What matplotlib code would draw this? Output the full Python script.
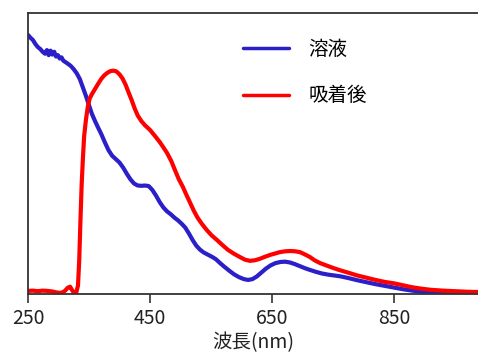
import matplotlib
matplotlib.use("Agg")
import matplotlib.pyplot as plt

plt.rcParams['font.family'] = ['Noto Sans CJK JP', 'DejaVu Sans']

# 溶液 (solution) spectrum, arbitrary absorbance units
wl_sol = [250, 254, 258, 262, 266, 270, 274, 278, 281, 284, 287, 290, 293, 296,
          299, 302, 305, 308, 311, 315, 320, 325, 330, 335, 340, 345, 350, 355,
          360, 365, 370, 376, 382, 388, 394, 400, 406, 412, 418, 424, 430, 436,
          442, 448, 454, 460, 466, 472, 478, 484, 490, 496, 502, 508, 514, 520,
          526, 532, 538, 545, 552, 558, 565, 572, 580, 588, 596, 604, 611, 618,
          625, 632, 640, 648, 656, 664, 672, 680, 688, 696, 704, 712, 722, 732,
          742, 752, 762, 775, 790, 805, 820, 835, 850, 865, 880, 895, 910, 930,
          960, 988]
abs_sol = [0.922, 0.912, 0.904, 0.890, 0.879, 0.872, 0.862, 0.855, 0.868, 0.850,
           0.866, 0.852, 0.862, 0.845, 0.850, 0.838, 0.842, 0.830, 0.826, 0.820,
           0.812, 0.800, 0.785, 0.765, 0.735, 0.705, 0.672, 0.640, 0.615, 0.592,
           0.570, 0.540, 0.512, 0.492, 0.480, 0.468, 0.450, 0.428, 0.408, 0.393,
           0.386, 0.385, 0.386, 0.384, 0.370, 0.350, 0.327, 0.308, 0.294, 0.284,
           0.272, 0.262, 0.250, 0.236, 0.215, 0.192, 0.172, 0.158, 0.148, 0.140,
           0.132, 0.124, 0.110, 0.097, 0.083, 0.070, 0.060, 0.053, 0.050, 0.053,
           0.062, 0.075, 0.090, 0.102, 0.110, 0.114, 0.115, 0.112, 0.106, 0.099,
           0.092, 0.086, 0.079, 0.073, 0.069, 0.066, 0.063, 0.057, 0.049, 0.042,
           0.035, 0.029, 0.023, 0.017, 0.012, 0.008, 0.005, 0.003, 0.002, 0.002]

# 吸着後 (after adsorption) spectrum
wl_ads = [250, 258, 266, 274, 282, 290, 296, 302, 307, 311, 315, 319, 322, 325,
          329, 332, 334, 336, 338, 340, 342, 345, 348, 351, 355, 360, 365, 370,
          375, 380, 385, 390, 395, 400, 405, 410, 415, 420, 425, 430, 436, 442,
          450, 458, 466, 472, 478, 485, 491, 497, 504, 510, 516, 522, 528, 535,
          543, 551, 560, 569, 578, 588, 598, 606, 614, 622, 630, 638, 647, 655,
          663, 672, 680, 688, 696, 704, 712, 720, 729, 740, 750, 761, 775, 790,
          805, 820, 835, 850, 865, 880, 895, 910, 930, 950, 970, 988]
abs_ads = [0.011, 0.012, 0.010, 0.012, 0.011, 0.009, 0.006, 0.004, 0.006, 0.012,
           0.022, 0.026, 0.015, 0.005, 0.004, 0.030, 0.120, 0.260, 0.390, 0.480,
           0.560, 0.620, 0.665, 0.695, 0.712, 0.730, 0.748, 0.765, 0.778, 0.787,
           0.793, 0.795, 0.792, 0.782, 0.767, 0.745, 0.717, 0.690, 0.660, 0.635,
           0.615, 0.600, 0.584, 0.563, 0.541, 0.522, 0.502, 0.473, 0.441, 0.410,
           0.381, 0.352, 0.324, 0.296, 0.272, 0.250, 0.228, 0.209, 0.192, 0.174,
           0.157, 0.143, 0.131, 0.122, 0.118, 0.120, 0.125, 0.132, 0.139, 0.144,
           0.149, 0.152, 0.153, 0.152, 0.149, 0.141, 0.132, 0.120, 0.110, 0.101,
           0.093, 0.085, 0.076, 0.066, 0.058, 0.050, 0.043, 0.038, 0.031, 0.024,
           0.019, 0.015, 0.012, 0.010, 0.008, 0.007]

xticks = [250, 450, 650, 850]

fig = plt.figure(figsize=(4.78, 3.53), dpi=100)
ax = fig.add_axes([28 / 478, 1 - 294 / 353, 1 - 28 / 478, (294 - 13) / 353])

ax.plot(wl_sol, abs_sol, color='#2a1fc8', lw=3.0, label='溶液',
        solid_capstyle='round', solid_joinstyle='round')
ax.plot(wl_ads, abs_ads, color='#ff0000', lw=3.0, label='吸着後',
        solid_capstyle='round', solid_joinstyle='round')

ax.set_xlim(250, 988)
ax.set_ylim(0, 1.0)
ax.set_xticks(xticks)
ax.set_xticklabels([str(t) for t in xticks], fontsize=14, color='#222222')
ax.tick_params(axis='x', direction='out', length=6.5, width=1.2, color='#333333', pad=3.5)
ax.set_yticks([])
ax.set_xlabel('波長(nm)', fontsize=14, color='#222222', labelpad=2.5)

for side in ['left', 'top', 'bottom']:
    ax.spines[side].set_color('#333333')
    ax.spines[side].set_linewidth(1.3)
ax.spines['right'].set_visible(False)

leg = ax.legend(loc='upper left', bbox_to_anchor=(233 / 478, 1 - 29 / 353),
                bbox_transform=fig.transFigure, frameon=False, fontsize=14,
                handlelength=2.37, handletextpad=1.0, labelspacing=1.32, borderpad=0)
for line in leg.get_lines():
    line.set_linewidth(2.5)

fig.savefig('out.png', dpi=100)
